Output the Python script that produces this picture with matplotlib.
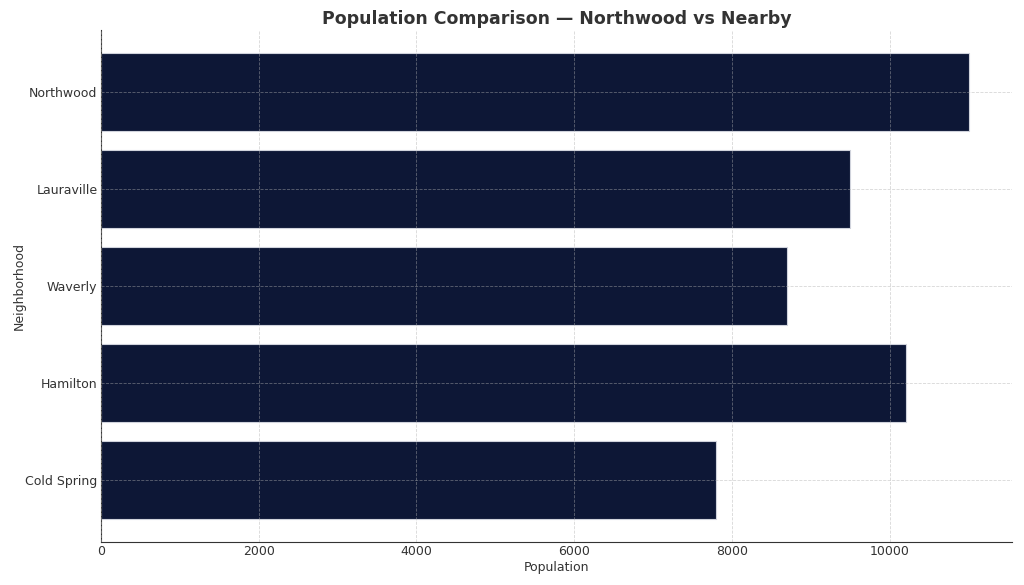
import matplotlib.pyplot as plt
import numpy as np

neighborhoods = ['Northwood', 'Lauraville', 'Waverly', 'Hamilton', 'Cold Spring']
population = [11000, 9500, 8700, 10200, 7800]

text_color = '#333333'

fig = plt.figure(figsize=(10.24, 5.85), dpi=100)
ax = fig.add_axes([101 / 1024, 1 - 542 / 585, (1012 - 101) / 1024, (542 - 30) / 585])

y = np.arange(len(neighborhoods))
ax.barh(y, population, height=0.8, color='#0d1736', edgecolor='#d0d3dc', linewidth=0.8)
ax.set_yticks(y)
ax.set_yticklabels(neighborhoods)
ax.invert_yaxis()

ax.set_title('Population Comparison — Northwood vs Nearby', fontsize=12.5,
             fontweight='bold', color=text_color, pad=4)
ax.set_xlabel('Population', fontsize=9, color=text_color, labelpad=2)
ax.set_ylabel('Neighborhood', fontsize=9, color=text_color, labelpad=0)
ax.tick_params(axis='both', length=0, labelsize=9, labelcolor=text_color, pad=2.5)

ax.grid(True, linestyle='--', linewidth=0.6, color='#b0b0b0', alpha=0.5)
ax.set_axisbelow(False)
for side in ['top', 'right']:
    ax.spines[side].set_visible(False)
for side in ['left', 'bottom']:
    ax.spines[side].set_color(text_color)

plt.savefig('out.png', dpi=100)
plt.close()
